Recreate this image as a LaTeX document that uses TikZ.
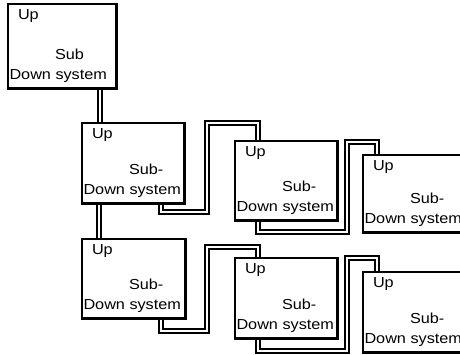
\documentclass[tikz,border=0pt]{standalone}
\usepackage{fontspec}
\setmainfont{Liberation Sans}
\usetikzlibrary{calc}
\tikzset{
  boxstyle/.style={draw=black, line width=2.1pt, fill=white, anchor=north west, inner sep=0pt, outer sep=0pt},
  place/.style={anchor=north west, inner sep=0pt, outer sep=0pt},
  txt/.style={anchor=base west, inner sep=0pt, outer sep=0pt, font=\fontsize{14.5}{17}\selectfont},
  dbl/.style={draw=black, double=white, double distance=2.6pt, line width=1.3pt, line join=miter},
  heavy/.style={line width=1.4pt, line cap=rect}
}
\newcommand\wtext[1]{\scalebox{1.12}[1]{#1}}
\newcommand\subsys[6]{%
  \node[boxstyle, minimum width=#4pt, minimum height=#5pt] (#1) at (#2,#3) {};
  \draw[heavy] ([xshift=1.4pt]#1.north east) -- ([xshift=1.4pt,yshift=-1.4pt]#1.south east) -- ([yshift=-1.4pt]#1.south west);
  \node[txt] (#1u) at ($(#1.north west)+(10,15)$) {\wtext{Up}};
  \node[txt] (#1s) at ($(#1.south west)+(47,-29)$) {\wtext{#6}};
  \node[txt] (#1d) at ($(#1.south west)+(1.5,-9)$) {\wtext{Down system}};
}
\begin{document}
\begin{tikzpicture}[x=1pt,y=-1pt]
\useasboundingbox (0,0) rectangle (460,354);
\clip (0,0) rectangle (460,354);
\fill[white] (0,0) rectangle (460,354);
% waypoints of the connectors
\coordinate (k1) at (207,123);
\coordinate (k2) at (347,142);
\coordinate (k3) at (207,247);
\coordinate (k4) at (347,258);
% placement of the boxes (anchors for the connectors)
\path (8,4) node[place, minimum width=108pt, minimum height=84pt] (p1) {};
\path (82,123) node[place, minimum width=102pt, minimum height=80pt] (p2) {};
\path (82,239) node[place, minimum width=103pt, minimum height=79pt] (p3) {};
\path (235,141) node[place, minimum width=102pt, minimum height=79pt] (p4) {};
\path (363,155) node[place, minimum width=110pt, minimum height=77pt] (p5) {};
\path (235,258) node[place, minimum width=102pt, minimum height=80pt] (p6) {};
\path (363,272) node[place, minimum width=110pt, minimum height=80pt] (p7) {};
% connectors
\draw[dbl] ($(p1.south west)+(92,0)$) -- ($(p2.north west)+(18,0)$);
\draw[dbl] ($(p2.south west)+(17,0)$) -- ($(p3.north west)+(17,0)$);
\draw[dbl] ($(p2.south west)+(79,0)$) -- ++(0,9) -| (k1) -| ($(p4.north west)+(23,0)$);
\draw[dbl] ($(p4.south west)+(23,0)$) -- ++(0,12) -| (k2) -| ($(p5.north west)+(14,0)$);
\draw[dbl] ($(p3.south west)+(79,0)$) -- ++(0,13) -| (k3) -| ($(p6.north west)+(23,0)$);
\draw[dbl] ($(p6.south west)+(23,0)$) -- ++(0,13) -| (k4) -| ($(p7.north west)+(14,0)$);
% boxes
\subsys{b1}{8}{4}{108}{84}{Sub}
\subsys{b2}{82}{123}{102}{80}{Sub-}
\subsys{b3}{82}{239}{103}{79}{Sub-}
\subsys{b4}{235}{141}{102}{79}{Sub-}
\subsys{b5}{363}{155}{110}{77}{Sub-}
\subsys{b6}{235}{258}{102}{80}{Sub-}
\subsys{b7}{363}{272}{110}{80}{Sub-}
\end{tikzpicture}
\end{document}
